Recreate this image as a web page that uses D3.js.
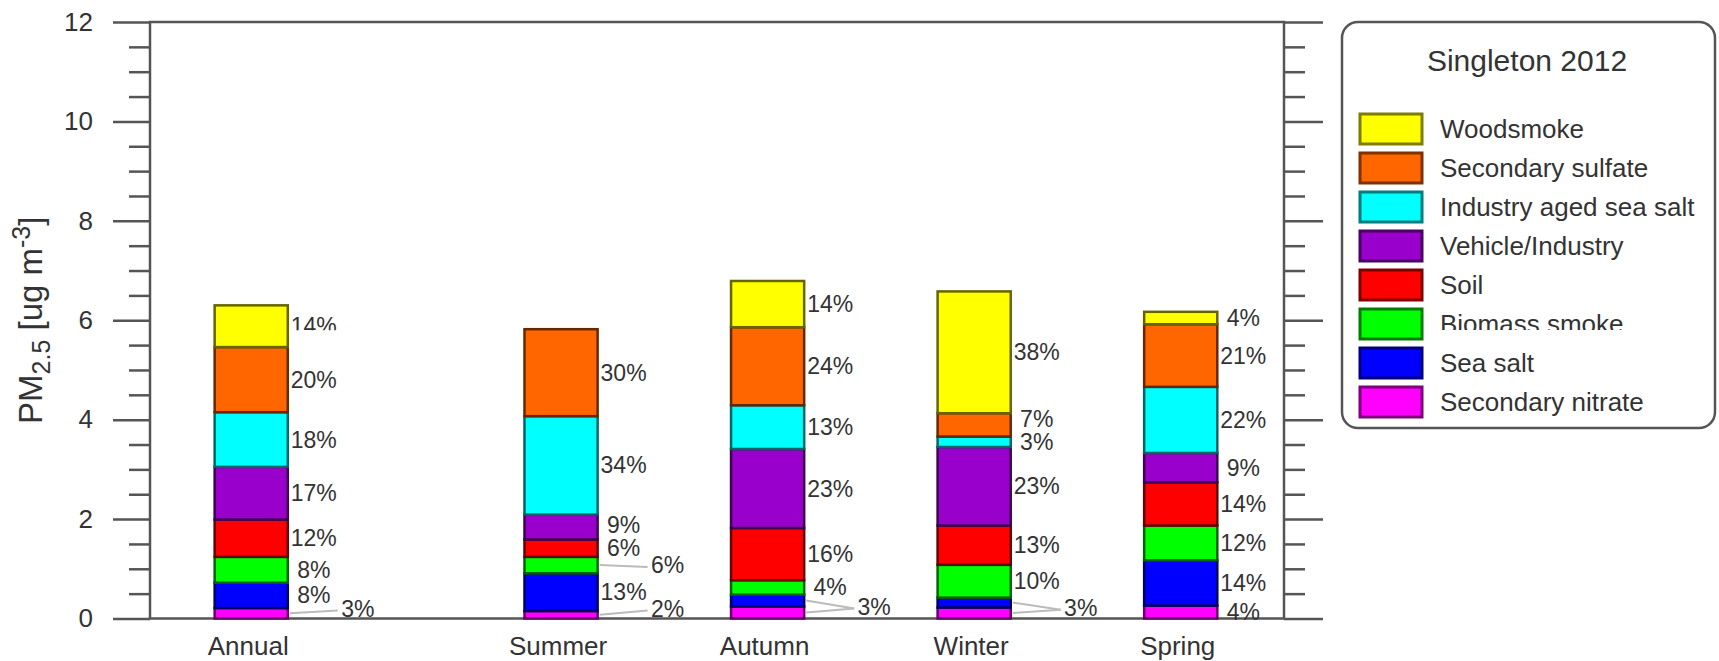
<!DOCTYPE html>
<html>
<head>
<meta charset="utf-8">
<script src="https://cdn.jsdelivr.net/npm/d3@7"></script>
<style>
  html, body { margin: 0; padding: 0; background: #fff; }
  svg { display: block; font-family: "Liberation Sans", Arial, Helvetica, sans-serif; }
</style>
</head>
<body>
<svg id="chart" width="1719" height="661"></svg>
<script>
// ---------- DATA ----------
const categories = ["Annual", "Summer", "Autumn", "Winter", "Spring"];

// PM2.5 source contributions (ug m-3), one value per category
const secondaryNitrate    = [0.21, 0.15, 0.24, 0.22, 0.26];
const seaSalt             = [0.51, 0.76, 0.24, 0.20, 0.91];
const biomassSmoke        = [0.52, 0.33, 0.29, 0.66, 0.70];
const soil                = [0.75, 0.35, 1.05, 0.79, 0.87];
const vehicleIndustry     = [1.06, 0.50, 1.59, 1.58, 0.59];
const industryAgedSeaSalt = [1.10, 1.98, 0.88, 0.21, 1.33];
const secondarySulfate    = [1.31, 1.75, 1.57, 0.47, 1.26];
const woodsmoke           = [0.84, 0.00, 0.93, 2.45, 0.25];

// stacking order, bottom to top
const sourceNames = ["Secondary nitrate", "Sea salt", "Biomass smoke", "Soil",
  "Vehicle/Industry", "Industry aged sea salt", "Secondary sulfate", "Woodsmoke"];
const sourceValues = [secondaryNitrate, seaSalt, biomassSmoke, soil,
  vehicleIndustry, industryAgedSeaSalt, secondarySulfate, woodsmoke];
const sourceColors = ["#ff00ff", "#0000ff", "#00ff00", "#ff0000",
  "#9900cc", "#00ffff", "#ff6600", "#ffff00"];

// percentage labels per category, bottom to top
const annualLabels = ["3%", "8%", "8%", "12%", "17%", "18%", "20%", "14%"];
const summerLabels = ["2%", "13%", "6%", "6%", "9%", "34%", "30%", ""];
const autumnLabels = ["3%", "3%", "4%", "16%", "23%", "13%", "24%", "14%"];
const winterLabels = ["3%", "3%", "10%", "13%", "23%", "3%", "7%", "38%"];
const springLabels = ["4%", "14%", "12%", "14%", "9%", "22%", "21%", "4%"];
const categoryLabels = [annualLabels, summerLabels, autumnLabels, winterLabels, springLabels];

// which labels are attached by a leader line (bottom to top)
const annualLeaders = [1, 0, 0, 0, 0, 0, 0, 0];
const summerLeaders = [1, 0, 1, 0, 0, 0, 0, 0];
const autumnLeaders = [1, 1, 0, 0, 0, 0, 0, 0];
const winterLeaders = [1, 1, 0, 0, 0, 0, 0, 0];
const springLeaders = [0, 0, 0, 0, 0, 0, 0, 0];
const categoryLeaders = [annualLeaders, summerLeaders, autumnLeaders, winterLeaders, springLeaders];

const yTicksMajor = [0, 2, 4, 6, 8, 10, 12];
const legendTitle = "Singleton 2012";

// ---------- LAYOUT ----------
const svg = d3.select("#chart");
const frame = { left: 150, right: 1284, top: 22, bottom: 618.5 };

const y = d3.scaleLinear().domain([0, 12]).range([frame.bottom, frame.top]);
// Annual stands apart; seasons follow after an extra half-step gap
const catPos = categories.map((c, i) => i === 0 ? 0 : i + 0.5);
const x = d3.scaleLinear().domain([-0.49, 5.0]).range([frame.left, frame.right]);
const barW = x(0.354) - x(0);

const rows = categories.map((c, i) => {
  const r = { category: c, idx: i };
  sourceNames.forEach((s, k) => r[s] = sourceValues[k][i]);
  return r;
});
const stacked = d3.stack().keys(sourceNames)(rows);

const defs = svg.append("defs");

// ---------- AXES ----------
const axisColor = "#555";
function styleAxis(g) {
  g.select(".domain").remove();
  g.selectAll(".tick line").attr("stroke", axisColor).attr("stroke-width", 2.5);
}
const minorTicks = d3.range(0, 12.01, 0.5).filter(v => !yTicksMajor.includes(v));

svg.append("g").attr("transform", `translate(${frame.left},0)`)
  .call(d3.axisLeft(y).tickValues(minorTicks).tickSize(21).tickFormat(""))
  .call(styleAxis);
svg.append("g").attr("transform", `translate(${frame.left},0)`)
  .call(d3.axisLeft(y).tickValues(yTicksMajor).tickSize(37).tickPadding(20).tickFormat(d3.format("d")))
  .call(styleAxis)
  .call(g => g.selectAll(".tick text").attr("fill", "#333")
    .style("font-size", "26px").style("font-family", "'Liberation Sans', Arial, sans-serif"));
svg.append("g").attr("transform", `translate(${frame.right},0)`)
  .call(d3.axisRight(y).tickValues(minorTicks).tickSize(21).tickFormat(""))
  .call(styleAxis);
svg.append("g").attr("transform", `translate(${frame.right},0)`)
  .call(d3.axisRight(y).tickValues(yTicksMajor).tickSize(39).tickFormat(""))
  .call(styleAxis);

// frame
svg.append("rect")
  .attr("x", frame.left).attr("y", frame.top)
  .attr("width", frame.right - frame.left).attr("height", frame.bottom - frame.top)
  .attr("fill", "none").attr("stroke", axisColor).attr("stroke-width", 2.5);

// y title
const yt = svg.append("text")
  .attr("transform", `translate(42,${(frame.top + frame.bottom) / 2}) rotate(-90)`)
  .attr("text-anchor", "middle").attr("fill", "#333").style("font-size", "33px");
yt.append("tspan").text("PM");
yt.append("tspan").attr("dy", 8).style("font-size", "25px").text("2.5");
yt.append("tspan").attr("dy", -8).text(" [ug m");
yt.append("tspan").attr("dy", -12).style("font-size", "25px").text("-3");
yt.append("tspan").attr("dy", 12).text("]");

// category labels
svg.append("g").selectAll("text").data(categories).join("text")
  .attr("x", (d, i) => x(catPos[i]) - 3)
  .attr("y", 655)
  .attr("text-anchor", "middle").attr("fill", "#333")
  .style("font-size", "26px")
  .text(d => d);

// ---------- BARS ----------
const barG = svg.append("g");
stacked.forEach((series, k) => {
  barG.append("g").selectAll("rect").data(series.filter(d => d[1] - d[0] > 0)).join("rect")
    .attr("x", d => x(catPos[d.data.idx]) - barW / 2)
    .attr("width", barW)
    .attr("y", d => y(d[1]))
    .attr("height", d => y(d[0]) - y(d[1]))
    .attr("fill", sourceColors[k])
    .attr("stroke", d3.color(sourceColors[k]).darker(2.6))
    .attr("stroke-width", 2.5);
});

// ---------- PERCENT LABELS ----------
const labG = svg.append("g").attr("fill", "#333").style("font-size", "23px");
let clipId = 0;
function clippedText(sel, yMax) {
  const id = "clip" + (clipId++);
  defs.append("clipPath").attr("id", id).append("rect")
    .attr("x", 0).attr("y", 0).attr("width", 1719).attr("height", yMax);
  sel.attr("clip-path", `url(#${id})`);
}
const minGap = 23;
categories.forEach((c, i) => {
  const barRight = x(catPos[i]) + barW / 2;
  const labels = categoryLabels[i];
  const leaders = categoryLeaders[i];
  const mids = stacked.map(s => (y(s[i][0]) + y(s[i][1])) / 2);
  // normal labels, pushed upward when too close to the label below
  let lastY = Infinity;
  labels.forEach((t, k) => {
    if (!t || leaders[k]) return;
    let ly = mids[k];
    if (lastY - ly < minGap) ly = lastY - minGap;
    lastY = ly;
    const tx = labG.append("text")
      .attr("x", barRight + 26).attr("y", ly).attr("dy", "0.35em")
      .attr("text-anchor", "middle").text(t);
    // in the original the top Annual label is partly hidden
    if (i === 0 && k === 7) clippedText(tx, ly + 4);
  });
  // leader-line labels: consecutive leader segments with same text share one label
  let k = 0;
  while (k < labels.length) {
    if (!leaders[k]) { k++; continue; }
    const group = [k];
    while (k + 1 < labels.length && leaders[k + 1] && labels[k + 1] === labels[k]) { k++; group.push(k); }
    const meanY = d3.mean(group, g => mids[g]);
    const ly = Math.min(meanY, y(0) - 10);
    group.forEach(g => {
      labG.append("line")
        .attr("x1", barRight + 2).attr("y1", mids[g])
        .attr("x2", barRight + 50).attr("y2", ly + 2)
        .attr("stroke", "#bbb").attr("stroke-width", 2);
    });
    labG.append("text")
      .attr("x", barRight + 70).attr("y", ly).attr("dy", "0.35em")
      .attr("text-anchor", "middle").text(labels[group[0]]);
    k++;
  }
});

// ---------- LEGEND ----------
const lg = svg.append("g");
lg.append("rect")
  .attr("x", 1342).attr("y", 22).attr("width", 373).attr("height", 406)
  .attr("rx", 16).attr("ry", 16)
  .attr("fill", "#fff").attr("stroke", axisColor).attr("stroke-width", 2.5);
lg.append("text").attr("x", 1527).attr("y", 71).attr("text-anchor", "middle")
  .attr("fill", "#333").style("font-size", "30px").text(legendTitle);

const legendOrder = d3.range(sourceNames.length).reverse();
const legY = d3.scalePoint().domain(legendOrder).range([129, 402]);
legendOrder.forEach(k => {
  const cy = legY(k);
  lg.append("rect")
    .attr("x", 1360).attr("y", cy - 15).attr("width", 62).attr("height", 30)
    .attr("fill", sourceColors[k])
    .attr("stroke", d3.color(sourceColors[k]).darker(2))
    .attr("stroke-width", 3);
  const t = lg.append("text")
    .attr("x", 1440).attr("y", cy).attr("dy", "0.35em")
    .attr("fill", "#333").style("font-size", "26px")
    .text(sourceNames[k]);
  // in the original the "Biomass smoke" entry is partly hidden
  if (sourceNames[k] === "Biomass smoke") clippedText(t, cy + 6);
});
</script>
</body>
</html>
